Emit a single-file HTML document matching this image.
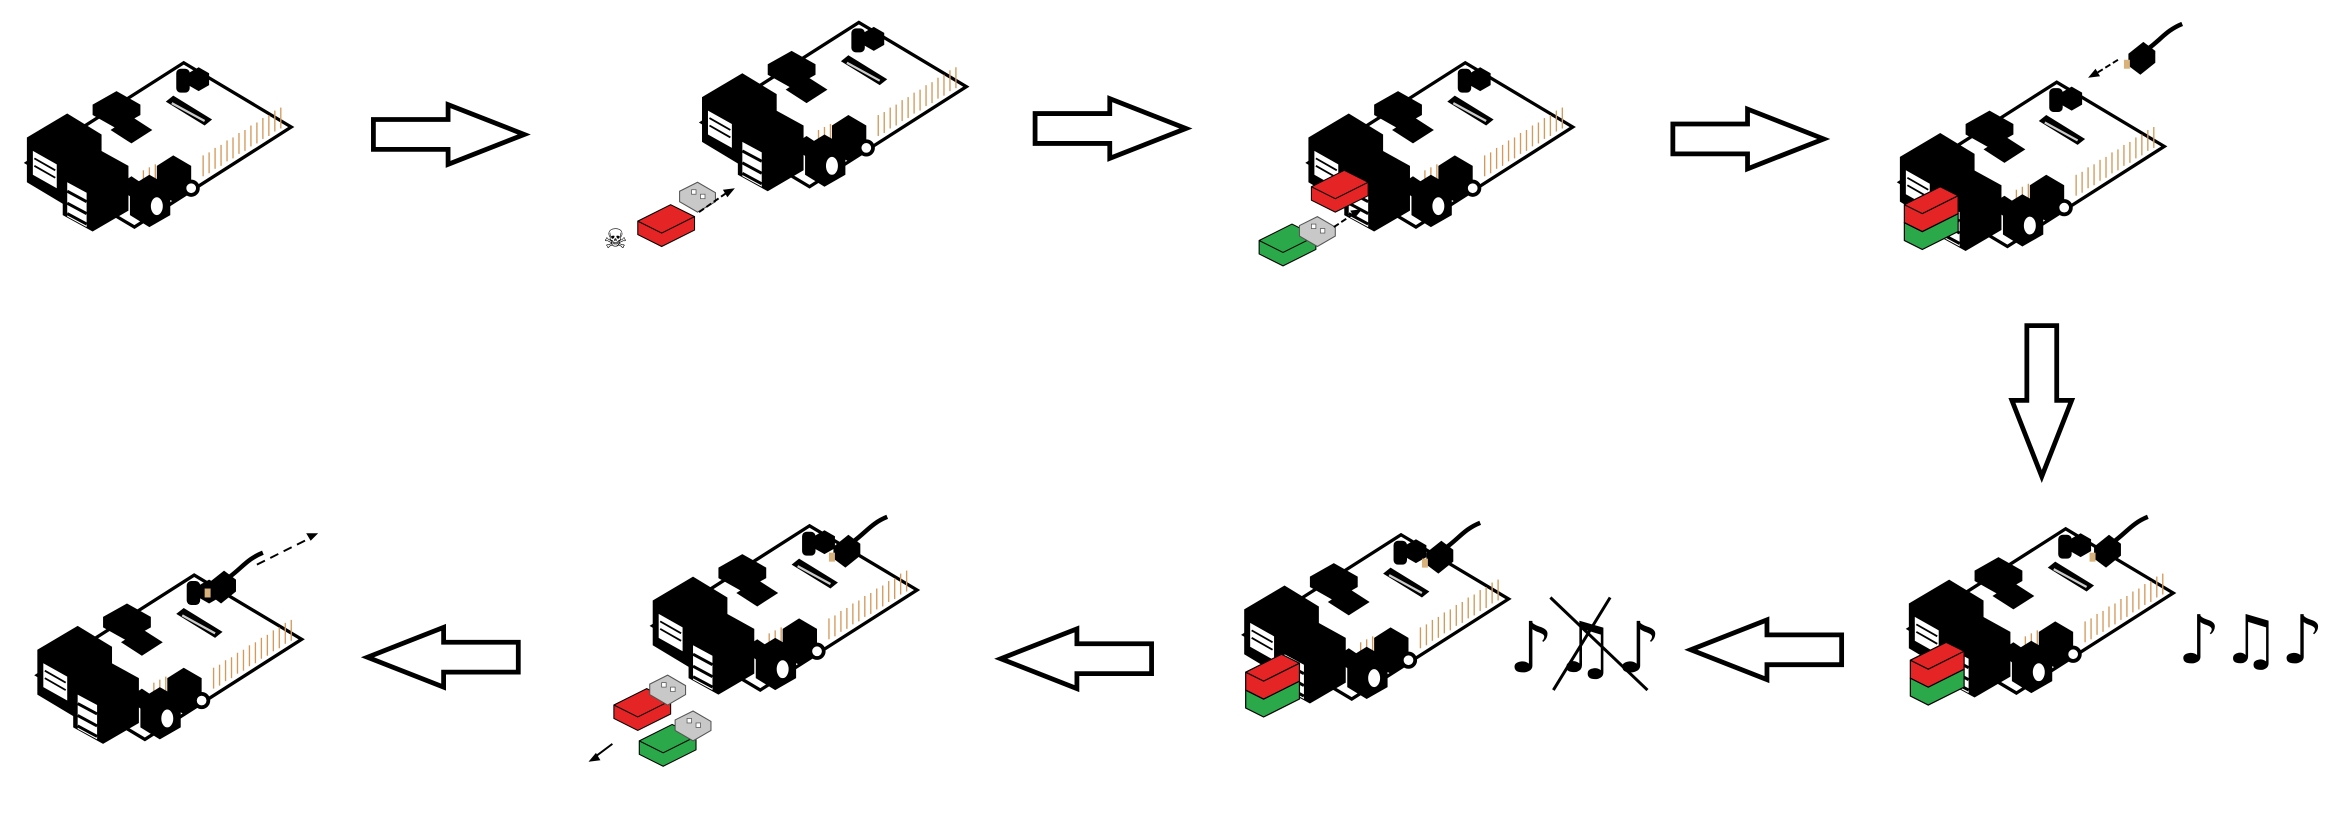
<!DOCTYPE html>
<html><head><meta charset="utf-8"><style>html,body{margin:0;padding:0;background:#fff}svg{display:block}</style></head>
<body>
<svg width="2342" height="838" viewBox="0 0 1568 561" xmlns="http://www.w3.org/2000/svg">
<defs>
<g id="b">
 <polygon points="105,0 177,43 72,110 0,67" fill="#fff" stroke="#000" stroke-width="2.2"/>
 <g stroke="#d39a5c" stroke-width="0.9">
  <line x1="118" y1="76" x2="118" y2="62"/><line x1="122" y1="74" x2="122" y2="60"/><line x1="126" y1="71" x2="126" y2="57"/>
  <line x1="130" y1="69" x2="130" y2="55"/><line x1="134" y1="66" x2="134" y2="52"/><line x1="138" y1="64" x2="138" y2="50"/>
  <line x1="142" y1="61" x2="142" y2="47"/><line x1="146" y1="59" x2="146" y2="45"/><line x1="150" y1="56" x2="150" y2="42"/>
  <line x1="154" y1="54" x2="154" y2="40"/><line x1="158" y1="51" x2="158" y2="37"/><line x1="162" y1="49" x2="162" y2="35"/>
  <line x1="166" y1="46" x2="166" y2="32"/><line x1="170" y1="44" x2="170" y2="30"/>
  <line x1="78" y1="86" x2="78" y2="72"/><line x1="82" y1="84" x2="82" y2="70"/><line x1="86" y1="82" x2="86" y2="68"/>
 </g>
 <rect x="100" y="4" width="9" height="16" rx="3" fill="#000"/>
 <polygon points="108,7 115,3 122,7 122,15 115,19 108,15" fill="#000"/>
 <polygon points="93,26 98,22 124,38 119,42" fill="#000"/>
 <line x1="97" y1="27" x2="119" y2="39" stroke="#ccc" stroke-width="1.5"/>
 <polygon points="44,28 60,19 76,28 76,35 60,44 44,35" fill="#000"/>
 <polygon points="56,45 70,36 84,45 70,54" fill="#000"/>
 <polygon points="0,50 27,34 50,48 50,80 25,95 0,80" fill="#000"/>
 <polygon points="4,59 20,68 20,84 4,75" fill="#fff"/>
 <g stroke="#000" stroke-width="1.2"><line x1="5" y1="64" x2="19" y2="72"/><line x1="5" y1="69" x2="19" y2="77"/></g>
 <polygon points="24,72 48,58 68,69 68,99 44,113 24,102" fill="#000"/>
 <polygon points="27,80 40,87 40,110 27,103" fill="#fff"/>
 <g stroke="#000" stroke-width="2"><line x1="27" y1="86" x2="40" y2="93"/><line x1="27" y1="94" x2="40" y2="101"/><line x1="27" y1="101" x2="40" y2="108"/></g>
 <polygon points="64,80 70,76 76,80 76,86 70,90 64,86" fill="#000"/>
 <polygon points="69,83 82,75 96,83 96,102 82,110 69,102" fill="#000"/>
 <ellipse cx="87" cy="96" rx="5" ry="7" fill="#fff" stroke="#000" stroke-width="2"/>
 <polygon points="87,69 98,62 110,69 110,87 98,93 87,87" fill="#000"/>
 <circle cx="110" cy="84" r="4.5" fill="#fff" stroke="#000" stroke-width="2.5"/>
</g>
<g id="ra"><path d="M0,-10 H50 V-20 L101,0 L50,20 V10 H0 Z" fill="#fff" stroke="#000" stroke-width="3.2" stroke-linejoin="miter"/></g>
<g id="cab">
 <polygon points="0,10 10,2 18,8 18,16 8,24 0,18" fill="#000"/>
 <path d="M14,6 C22,0 26,-6 36,-10" fill="none" stroke="#000" stroke-width="3"/>
 <rect x="-3" y="14" width="4" height="6" fill="#d8b27a"/>
</g>
<g id="red"><polygon points="0,8 22,-3 38,5 38,14 16,25 0,17" fill="#e52525" stroke="#000" stroke-width="0.7"/><polyline points="0,8 16,16 38,5 M16,16 16,25" fill="none" stroke="#000" stroke-width="0.7"/></g>
<g id="grn"><polygon points="0,8 22,-3 38,5 38,14 16,25 0,17" fill="#2aa84a" stroke="#000" stroke-width="0.7"/><polyline points="0,8 16,16 38,5 M16,16 16,25" fill="none" stroke="#000" stroke-width="0.7"/></g>
<g id="tip"><polygon points="0,6 12,0 24,7 24,13 12,20 0,13" fill="#c8c8c8" stroke="#555" stroke-width="0.7"/><rect x="8" y="5" width="3" height="3" fill="#fff" stroke="#555" stroke-width="0.5"/><rect x="14" y="8" width="3" height="3" fill="#fff" stroke="#555" stroke-width="0.5"/></g>
<g id="stack">
 <polygon points="0,22 24,10 36,16 36,28 12,40 0,34" fill="#2aa84a" stroke="#000" stroke-width="0.8"/>
 <polyline points="0,22 12,28 36,16 M12,28 12,40" fill="none" stroke="#000" stroke-width="0.8"/>
 <polygon points="0,10 24,-2 36,4 36,16 12,28 0,22" fill="#e52525" stroke="#000" stroke-width="0.8"/>
 <polyline points="0,10 12,16 36,4 M12,16 12,28" fill="none" stroke="#000" stroke-width="0.8"/>
</g>
</defs>

<use href="#b" x="18" y="42"/>
<use href="#ra" transform="translate(250,90)"/>

<use href="#b" x="470" y="15"/>
<use href="#red" x="427" y="140"/>
<use href="#tip" x="455" y="122"/>
<line x1="468" y1="142" x2="488" y2="128" stroke="#000" stroke-width="1.3" stroke-dasharray="4,2"/>
<polygon points="492,126 484,127 487,132" fill="#000"/>
<text x="404" y="166" font-family="DejaVu Sans, sans-serif" font-size="18">☠</text>
<use href="#ra" transform="translate(693,86)"/>

<use href="#b" x="876" y="42"/>
<use href="#red" x="878" y="117"/>
<use href="#grn" x="843" y="153"/>
<use href="#tip" x="870" y="145"/>
<line x1="893" y1="152" x2="908" y2="142" stroke="#000" stroke-width="1.3" stroke-dasharray="4,2"/>
<polygon points="912,140 904,141 907,146" fill="#000"/>
<use href="#ra" transform="translate(1120,93)"/>

<use href="#b" x="1272" y="55"/>
<use href="#stack" x="1275" y="127"/>
<use href="#cab" x="1425" y="26"/>
<line x1="1418" y1="40" x2="1402" y2="50" stroke="#000" stroke-width="1.3" stroke-dasharray="4,2"/>
<polygon points="1398,52 1406,51 1403,46" fill="#000"/>

<use href="#ra" transform="translate(1367,218) rotate(90)"/>

<use href="#b" x="1278" y="354"/>
<use href="#cab" x="1402" y="356"/>
<use href="#stack" x="1279" y="432"/>
<text x="1458" y="444" font-family="DejaVu Sans, sans-serif" font-size="45">♪♫♪</text>
<use href="#ra" transform="translate(1233,435) rotate(180)"/>

<use href="#b" x="833" y="358"/>
<use href="#cab" x="955" y="360"/>
<use href="#stack" x="834" y="440"/>
<text x="1010" y="450" font-family="DejaVu Sans, sans-serif" font-size="47">♪♫♪</text>
<line x1="1038" y1="400" x2="1103" y2="462" stroke="#000" stroke-width="2"/>
<line x1="1078" y1="400" x2="1040" y2="462" stroke="#000" stroke-width="2"/>
<use href="#ra" transform="translate(771,441) rotate(180)"/>

<use href="#b" x="437" y="352"/>
<use href="#cab" x="558" y="356"/>
<use href="#red" x="411" y="464"/>
<use href="#tip" x="435" y="452"/>
<use href="#grn" x="428" y="488"/>
<use href="#tip" x="452" y="476"/>
<line x1="410" y1="498" x2="398" y2="507" stroke="#000" stroke-width="1.3"/>
<polygon points="394,510 402,509 399,504" fill="#000"/>
<use href="#ra" transform="translate(347,440) rotate(180)"/>

<use href="#b" x="25" y="385"/>
<use href="#cab" x="140" y="380"/>
<line x1="172" y1="378" x2="208" y2="360" stroke="#000" stroke-width="1.3" stroke-dasharray="6,4"/>
<polygon points="213,357 205,357 208,362" fill="#000"/>
</svg>
</body></html>
